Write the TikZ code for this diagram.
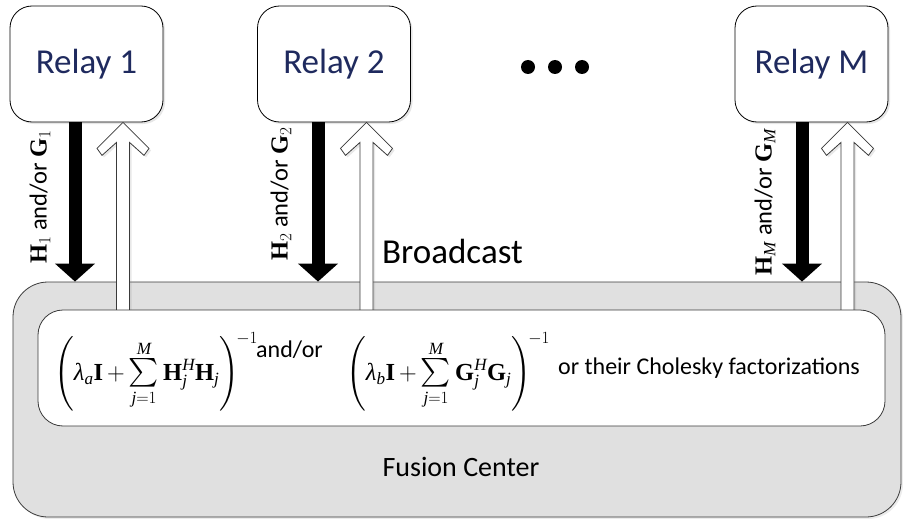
\documentclass[tikz,border=0pt]{standalone}
\usepackage{fix-cm}
\usepackage{amsmath}
\usepackage{graphicx}
\usepackage[no-math]{fontspec}
\setmainfont{Carlito}
\newfontfamily\tnr{Liberation Serif}
\usetikzlibrary{arrows.meta,shadows,calc}

\definecolor{relaytext}{HTML}{1F2A5E}
\definecolor{fcfill}{HTML}{E0E0E0}
\definecolor{edge}{HTML}{3A3A3A}

% serif letters for the matrix expressions
\newcommand\bfl[1]{\text{\tnr\bfseries #1}}
\newcommand\itl[1]{\text{\tnr\itshape #1}}
% slightly enlarged summation sign
\newcommand\bigsum{\mathop{\scalebox{1.15}{$\textstyle\sum$}}\limits}

% hollow broadcast arrow: #1 tip, #2 foot
\newcommand\bcastarrow[2]{%
  \draw[edge, fill=white, line width=0.8pt, line join=miter,
        drop shadow={shadow xshift=2pt, shadow yshift=-2pt, opacity=0.18}]
    ($(#2)+(-6.5,0)$) -- ($(#1)+(-6.5,20)$) -- ($(#1)+(-21,33)$) --
    ($(#1)+(-26,26)$) -- (#1) -- ($(#1)+(26,26)$) -- ($(#1)+(21,33)$) --
    ($(#1)+(6.5,20)$) -- ($(#2)+(6.5,0)$);}

\begin{document}
\begin{tikzpicture}[x=1pt,y=-1pt,
  relay/.style={draw=black, line width=0.8pt, fill=white, rounded corners=22pt,
    minimum width=153pt, minimum height=116pt, inner sep=0pt,
    font=\fontsize{35}{42}\selectfont, text=relaytext,
    drop shadow={shadow xshift=2pt, shadow yshift=-2pt, opacity=0.2}},
  upload/.style={line width=13pt, -{Triangle[width=39pt,length=18pt]}},
  chanlabel/.style={rotate=90, inner sep=0pt, font=\fontsize{24.5}{30}\selectfont},
  dot/.style={circle, fill=black, minimum size=14pt, inner sep=0pt},
  mathtxt/.style={inner sep=0pt, font=\fontsize{24.5}{30}\selectfont},
  smalltxt/.style={inner sep=0pt, font=\fontsize{24}{28}\selectfont},
]
\useasboundingbox (0,0) rectangle (903,519);

% fusion center
\node[draw=edge, line width=0.8pt, fill=fcfill, rounded corners=35pt,
      minimum width=888pt, minimum height=235pt,
      drop shadow={shadow xshift=2pt, shadow yshift=-2pt, opacity=0.15}]
      (fc) at (457,399.5) {};
\node[inner sep=0pt, anchor=base, font=\fontsize{28}{32}\selectfont]
      (fclabel) at (461,476) {Fusion Center};

% relays
\node[relay] (r1) at (86.5,64) {Relay 1};
\node[relay] (r2) at (334,64) {Relay 2};
\node[relay] (rM) at (811.5,64) {Relay M};

\node[dot] (d1) at (528,67) {};
\node[dot] (d2) at (555,67) {};
\node[dot] (d3) at (582,67) {};

% local channel estimates sent up to the fusion center
\coordinate (k1) at ([xshift=-11.5pt]r1.south);
\coordinate (k2) at ([xshift=-16pt]r2.south);
\coordinate (kM) at ([xshift=-9.5pt]rM.south);
\draw[upload] (k1) -- (k1 |- fc.north);
\draw[upload] (k2) -- (k2 |- fc.north);
\draw[upload] (kM) -- (kM |- fc.north);

\node[chanlabel] (l1) at (40,197) {$\bfl{H}_{1}$ and/or $\bfl{G}_{1}$};
\node[chanlabel] (l2) at (281,194) {$\bfl{H}_{2}$ and/or $\bfl{G}_{2}$};
\node[chanlabel] (lM) at (765,202) {$\bfl{H}_{\itl{M}}$ and/or $\bfl{G}_{\itl{M}}$};

% inner result box
\coordinate (t1) at ([xshift=36.5pt]r1.south);
\coordinate (t2) at ([xshift=32.5pt]r2.south);
\coordinate (tM) at ([xshift=36pt]rM.south);
\coordinate (c0) at (461.5,310);
\coordinate (b1) at (t1 |- c0);
\coordinate (b2) at (t2 |- c0);
\coordinate (bM) at (tM |- c0);

% broadcast back to the relays
\bcastarrow{t1}{b1}
\bcastarrow{t2}{b2}
\bcastarrow{tM}{bM}

\node[anchor=base west, inner sep=0pt, font=\fontsize{35}{42}\selectfont]
      (bc) at (382,263) {Broadcast};

\node[draw=edge, line width=0.8pt, fill=white, rounded corners=25pt,
      minimum width=847pt, minimum height=116pt] (calc) at (461.5,368) {};

\node[mathtxt, anchor=west] (fa) at (54,372)
  {$\medmuskip=3mu\left(\itl{λ}_{\itl{a}}\bfl{I}+\bigsum_{\itl{j}=1}^{\itl{M}}\bfl{H}_{\itl{j}}^{\itl{H}}\bfl{H}_{\itl{j}}\right)^{\!-1}$};
\node[smalltxt, anchor=base west] (andor) at (256,357) {and/or};
\node[mathtxt, anchor=west] (fb) at (346,372)
  {$\medmuskip=3mu\left(\itl{λ}_{\itl{b}}\bfl{I}+\bigsum_{\itl{j}=1}^{\itl{M}}\bfl{G}_{\itl{j}}^{\itl{H}}\bfl{G}_{\itl{j}}\right)^{\!-1}$};
\node[smalltxt, anchor=base west] (chol) at (558,374) {or their Cholesky factorizations};
\end{tikzpicture}
\end{document}
